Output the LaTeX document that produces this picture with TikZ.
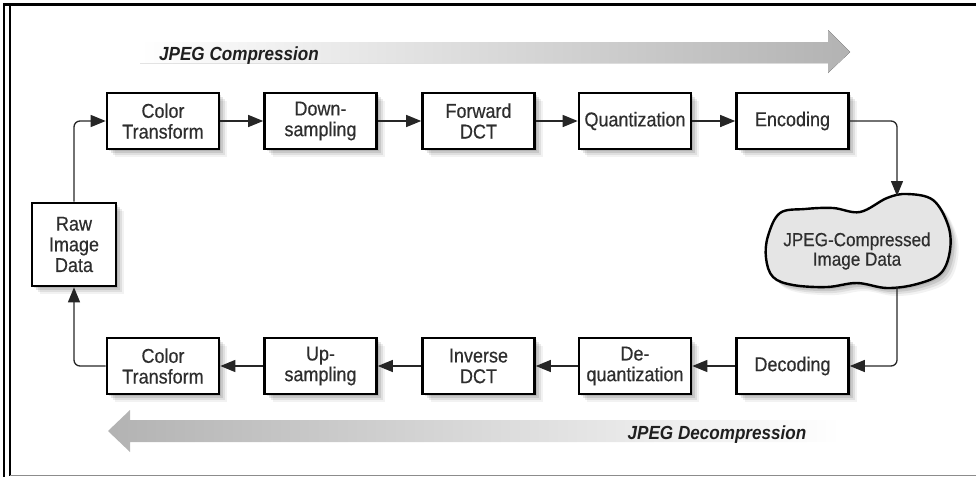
\documentclass[tikz,border=0pt]{standalone}
\usepackage{fontspec}
\setmainfont{Liberation Sans}[FakeStretch=0.9, FakeBold=0.4]
\newfontfamily\titlefont{Liberation Sans}[FakeStretch=0.9]
\usetikzlibrary{arrows.meta,shadows}
\tikzset{
  softshadow/.style={
    general shadow={shadow xshift=2pt, shadow yshift=-2pt, fill=black, opacity=0.10},
    general shadow={shadow xshift=4pt, shadow yshift=-4pt, fill=black, opacity=0.10},
    general shadow={shadow xshift=6pt, shadow yshift=-6pt, fill=black, opacity=0.08},
    general shadow={shadow xshift=8pt, shadow yshift=-8pt, fill=black, opacity=0.05}},
  stepbox/.style={draw=black, line width=2.6pt, fill=white, minimum width=112pt,
    minimum height=56pt, align=center, inner sep=1pt, text=black!82,
    font=\fontsize{20}{20.7}\selectfont, softshadow},
  conn/.style={line width=1.3pt, draw=black!85, rounded corners=6pt,
    -{Triangle[length=15pt,width=12pt]}},
  titletext/.style={font=\titlefont\bfseries\itshape\fontsize{19}{20}\selectfont, text=black!88},
}
\begin{document}
\begin{tikzpicture}[x=1pt,y=-1pt]
\useasboundingbox (0,0) rectangle (976,477);
% frame
\draw[line width=2.4pt] (3,4.5) -- (976,4.5);
\draw[line width=2.4pt] (4,3) -- (4,477);
\draw[line width=1.1pt] (10,6) -- (10,476);
\draw[line width=0.9pt, draw=black!45] (10,475.5) -- (976,475.5);
% big gray arrows
\fill[left color=white, right color=black!30]
  (140,42) -- (828,42) -- (828,30) -- (850,52) -- (828,73) -- (828,63) -- (140,63) -- cycle;
\shade[left color=black!30, right color=white]
  (130,420) -- (840,420) -- (840,442) -- (130,442) -- (130,452) -- (108,431) -- (130,410) -- cycle;
\node[titletext] (tc) at (239,56) {JPEG Compression};
\node[titletext] (td) at (717,435) {JPEG Decompression};
% top row
\node[stepbox] (ct1) at (163,121) {Color\\Transform};
\node[stepbox] (ds) at (320.5,121) {Down-\\sampling};
\node[stepbox] (fd) at (478.5,121) {Forward\\DCT};
\node[stepbox] (qu) at (635,121) {Quantization};
\node[stepbox] (en) at (792.5,121) {Encoding};
% bottom row
\node[stepbox] (ct2) at (163,366) {Color\\Transform};
\node[stepbox] (us) at (320.5,366) {Up-\\sampling};
\node[stepbox] (id) at (478.5,366) {Inverse\\DCT};
\node[stepbox] (dq) at (635,366) {De-\\quantization};
\node[stepbox] (de) at (792.5,366) {Decoding};
% raw
\node[stepbox, minimum width=84pt, minimum height=83pt] (raw) at (74,244.5) {Raw\\Image\\Data};
% cloud
\draw[line width=2.4pt, fill=black!10, softshadow] plot[smooth cycle, tension=0.6] coordinates {
  (780,213) (805,209) (833,208) (860,212) (887,198) (907,194) (933,200) (948,225)
  (950,250) (941,273) (917,284) (887,288) (857,283) (827,287) (793,285) (773,277)
  (766,258) (768,236)};
\node[align=center, text=black!82, font=\fontsize{19}{19.5}\selectfont] (cloud) at (857,251) {JPEG-Compressed\\Image Data};
\coordinate (ctop) at (897,196);
\coordinate (cbot) at (897,287);
% connectors
\draw[conn] (ct1) -- (ds);
\draw[conn] (ds) -- (fd);
\draw[conn] (fd) -- (qu);
\draw[conn] (qu) -- (en);
\draw[conn] (en.east) -| (ctop);
\draw[conn] (cbot) |- (de.east);
\draw[conn] (de) -- (dq);
\draw[conn] (dq) -- (id);
\draw[conn] (id) -- (us);
\draw[conn] (us) -- (ct2);
\draw[conn] (ct2.west) -| (raw.south);
\draw[conn] (raw.north) |- (ct1.west);
\end{tikzpicture}
\end{document}
